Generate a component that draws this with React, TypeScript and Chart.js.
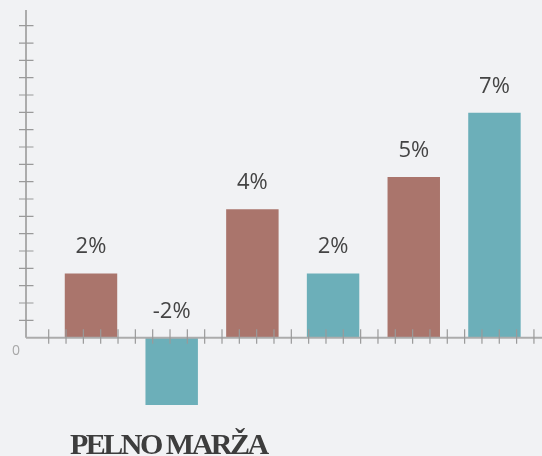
import React, { useEffect, useRef } from "react";
import { Chart, registerables } from "chart.js";

Chart.register(...registerables);

const categories = ["1", "2", "3", "4", "5", "6"];
const values = [2.0, -2.1, 4.0, 2.0, 5.0, 7.0];
const valueLabels = ["2%", "-2%", "4%", "2%", "5%", "7%"];
const barColors = ["#aa756c", "#6cafb9", "#aa756c", "#6cafb9", "#aa756c", "#6cafb9"];
const yMin = -3;
const yMax = 10.2;
const zeroLabel = "0";
const title = "PELNO MARŽA";

const BG = "#f1f2f4";

const axesPlugin = {
  id: "decorAxes",
  afterDatasetsDraw(chart: any) {
    const ctx = chart.ctx;
    const area = chart.chartArea;
    const y = chart.scales.y;
    const zeroY = y.getPixelForValue(0);
    const axisX = area.left - 24.65;
    const step = 17.33;
    ctx.save();

    // value labels
    ctx.font = "22px 'Open Sans'";
    ctx.fillStyle = "#444444";
    ctx.textAlign = "center";
    ctx.textBaseline = "alphabetic";
    const meta = chart.getDatasetMeta(0);
    meta.data.forEach((el: any, i: number) => {
      const top = Math.min(el.y, el.base);
      ctx.fillText(valueLabels[i], el.x, top - 20);
    });

    // y axis line
    ctx.strokeStyle = "#acacac";
    ctx.lineWidth = 2;
    ctx.beginPath();
    ctx.moveTo(axisX, area.top);
    ctx.lineTo(axisX, zeroY);
    ctx.stroke();
    // x axis line
    ctx.beginPath();
    ctx.moveTo(axisX, zeroY);
    ctx.lineTo(chart.width, zeroY);
    ctx.stroke();

    // ticks
    ctx.strokeStyle = "#9a9a9a";
    ctx.lineWidth = 1.2;
    ctx.beginPath();
    for (let py = zeroY - step; py > area.top + 5; py -= step) {
      ctx.moveTo(axisX - 7, py);
      ctx.lineTo(axisX + 7.5, py);
    }
    for (let px = axisX + 22.7; px < chart.width; px += step) {
      ctx.moveTo(px, zeroY - 8.5);
      ctx.lineTo(px, zeroY + 6);
    }
    ctx.stroke();

    // zero label
    ctx.font = "14px 'Open Sans'";
    ctx.fillStyle = "#a8a8a8";
    ctx.textAlign = "center";
    ctx.fillText(zeroLabel, axisX - 10, zeroY + 17.5);
    ctx.restore();
  },
};

export default function App() {
  const ref = useRef<HTMLCanvasElement>(null);
  useEffect(() => {
    document.body.style.margin = "0";
    document.body.style.background = BG;
    const chart = new Chart(ref.current!, {
      type: "bar",
      data: {
        labels: categories,
        datasets: [
          {
            data: values,
            backgroundColor: barColors,
            borderWidth: 0,
            categoryPercentage: 1,
            barPercentage: 0.65,
          },
        ],
      },
      options: {
        animation: false,
        responsive: false,
        devicePixelRatio: 1,
        layout: { padding: { left: 50.65, right: 7.2, top: 10, bottom: 22 } },
        plugins: { legend: { display: false }, tooltip: { enabled: false }, title: { display: false } },
        scales: {
          x: { display: false },
          y: { display: false, min: yMin, max: yMax },
        },
      },
      plugins: [axesPlugin],
    });
    return () => chart.destroy();
  }, []);
  return (
    <div style={{ position: "absolute", left: 0, top: 0, width: 542, height: 456, background: BG, overflow: "hidden" }}>
      <canvas ref={ref} width={542} height={456} style={{ display: "block" }} />
      <div
        style={{
          position: "absolute",
          left: 70,
          top: 428.5,
          fontFamily: "'Liberation Serif', serif",
          fontWeight: "bold",
          fontSize: 30,
          lineHeight: "30px",
          letterSpacing: "-2.5px",
          color: "#3d3d3d",
          whiteSpace: "nowrap",
        }}
      >
        {title}
      </div>
    </div>
  );
}
